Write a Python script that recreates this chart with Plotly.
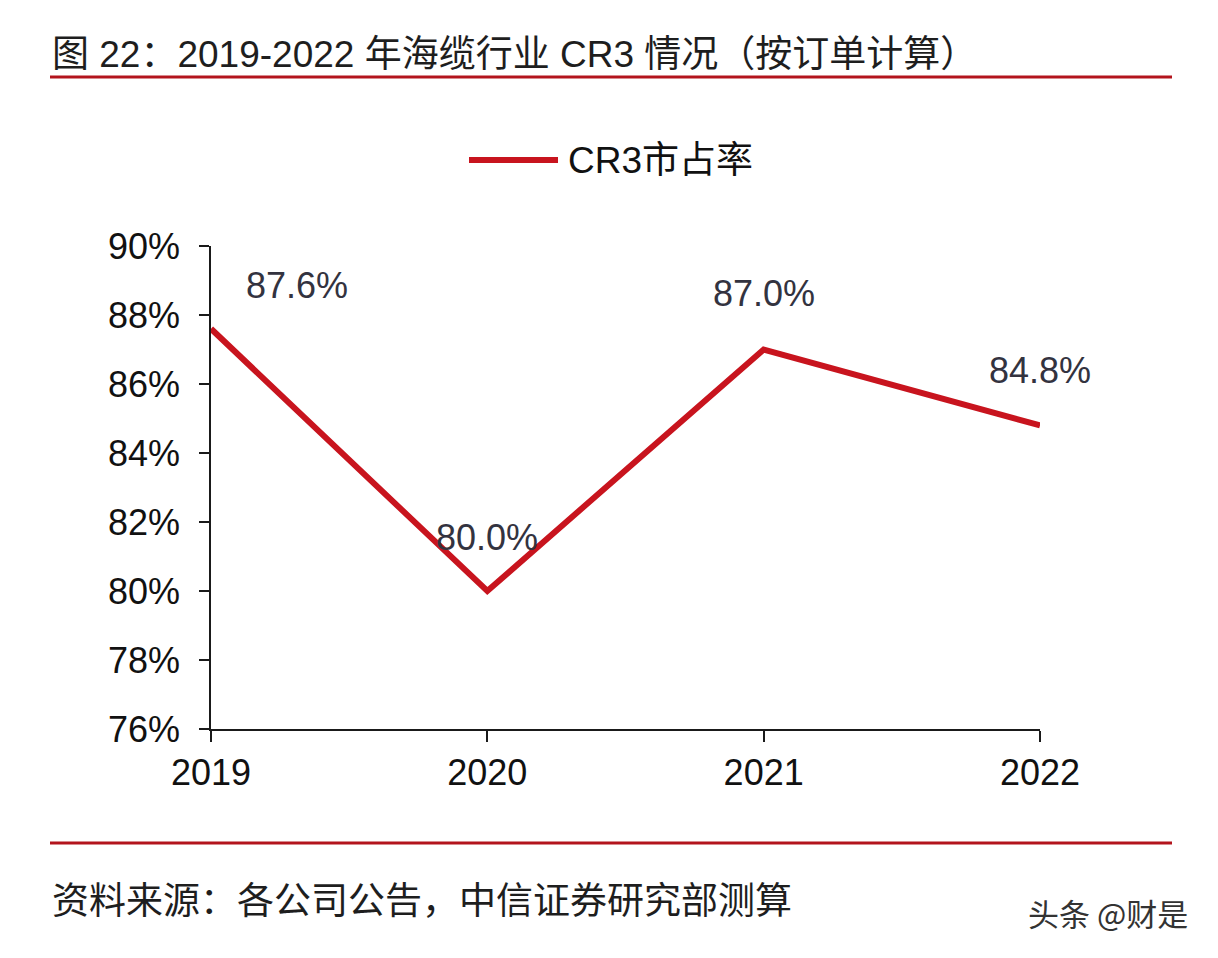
import plotly.graph_objects as go

# ---- data ----
years = ["2019", "2020", "2021", "2022"]
cr3_share = [87.6, 80.0, 87.0, 84.8]
series_name = "CR3市占率"
y_ticks = [76, 78, 80, 82, 84, 86, 88, 90]
y_tick_labels = [f"{v}%" for v in y_ticks]
title_text = "图 22：2019-2022 年海缆行业 CR3 情况（按订单计算）"
source_text = "资料来源：各公司公告，中信证券研究部测算"
watermark_text = "头条 @财是"

# ---- layout geometry (pixels) ----
W, H = 1218, 958
L, R, T, B = 211, 1040, 246, 729
LINE_COLOR = "#C8141E"
RULE_COLOR = "#B3141C"
FONT = "Liberation Sans, Arial, Noto Sans CJK SC, sans-serif"
CJK_FONT = "Noto Sans CJK SC, Liberation Sans, sans-serif"


def xp(px):
    return (px - L) / (R - L)


def yp(py):
    return (B - py) / (B - T)


fig = go.Figure()
fig.add_trace(go.Scatter(
    x=years, y=cr3_share, mode="lines", name=series_name,
    line=dict(color=LINE_COLOR, width=6), showlegend=False,
    hoverinfo="skip",
))

annotations = []
# data labels (x as category index)
label_offsets = [(86, 43), (0, 54), (0, 56), (0, 55)]
for i, (v, (dx, dy)) in enumerate(zip(cr3_share, label_offsets)):
    annotations.append(dict(
        x=i, y=v, xref="x", yref="y", text=f"{v:.1f}%", showarrow=False,
        xanchor="center", yanchor="middle", xshift=dx, yshift=dy,
        font=dict(family=FONT, size=36, color="#33333f"),
    ))

# title
annotations.append(dict(
    x=xp(50), y=yp(55), xref="paper", yref="paper", text=title_text,
    showarrow=False, xanchor="left", yanchor="middle",
    font=dict(family=FONT, size=37, color="#1e1e1e"),
))
# legend text
annotations.append(dict(
    x=xp(566), y=yp(160), xref="paper", yref="paper", text=series_name,
    showarrow=False, xanchor="left", yanchor="middle",
    font=dict(family=FONT, size=37, color="#111111"),
))
# source
annotations.append(dict(
    x=xp(50), y=yp(898), xref="paper", yref="paper", text=source_text,
    showarrow=False, xanchor="left", yanchor="middle",
    font=dict(family=CJK_FONT, size=37, color="#1e1e1e"),
))
# watermark
annotations.append(dict(
    x=xp(1190), y=yp(912), xref="paper", yref="paper", text=watermark_text,
    showarrow=False, xanchor="right", yanchor="middle",
    font=dict(family=CJK_FONT, size=31, color="#333333"),
))

shapes = [
    dict(type="line", xref="paper", yref="paper", x0=xp(50), x1=xp(1172),
         y0=yp(77), y1=yp(77), line=dict(color=RULE_COLOR, width=3)),
    dict(type="line", xref="paper", yref="paper", x0=xp(50), x1=xp(1172),
         y0=yp(843), y1=yp(843), line=dict(color=RULE_COLOR, width=3)),
    # legend swatch
    dict(type="line", xref="paper", yref="paper", x0=xp(469), x1=xp(558),
         y0=yp(160), y1=yp(160), line=dict(color=LINE_COLOR, width=6)),
]

fig.update_layout(
    width=W, height=H,
    margin=dict(l=L, r=W - R, t=T, b=H - B, autoexpand=False),
    paper_bgcolor="white", plot_bgcolor="white",
    showlegend=False,
    annotations=annotations, shapes=shapes,
)
fig.update_xaxes(
    type="category", range=[0, len(years) - 1],
    showgrid=False, zeroline=False,
    showline=True, linecolor="#1a1a1a", linewidth=1.5,
    ticks="outside", ticklen=11, tickwidth=1.5, tickcolor="#1a1a1a",
    tickfont=dict(family=FONT, size=36, color="#111111"),
)
fig.update_yaxes(
    range=[76, 90], tickvals=y_ticks, ticktext=y_tick_labels,
    showgrid=False, zeroline=False,
    showline=True, linecolor="#1a1a1a", linewidth=1.5,
    ticks="outside", ticklen=10, tickwidth=1.5, tickcolor="#1a1a1a",
    ticklabelstandoff=12,
    tickfont=dict(family=FONT, size=36, color="#111111"),
)

fig.write_html("out.html")
